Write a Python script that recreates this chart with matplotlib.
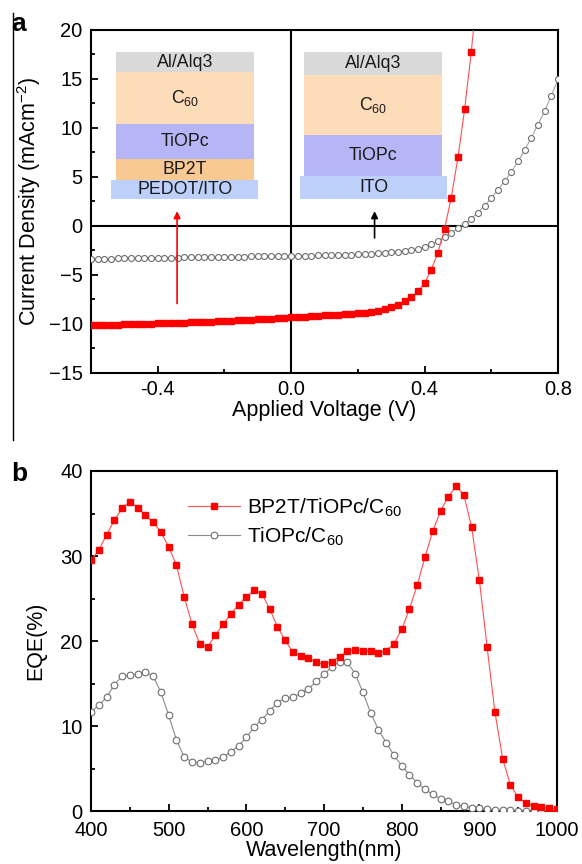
import matplotlib
matplotlib.use("Agg")
import matplotlib.pyplot as plt
from matplotlib.lines import Line2D
from matplotlib.patches import Rectangle
from matplotlib.ticker import MultipleLocator

plt.rcParams['font.family'] = ['Liberation Sans', 'DejaVu Sans']
plt.rcParams['mathtext.fontset'] = 'custom'
plt.rcParams['mathtext.rm'] = 'Liberation Sans'

# ---- panel a: J-V data ----
v_red = [-0.60, -0.58, -0.56, -0.54, -0.52, -0.50, -0.48, -0.46, -0.44, -0.42,
         -0.40, -0.38, -0.36, -0.34, -0.32, -0.30, -0.28, -0.26, -0.24, -0.22,
         -0.20, -0.18, -0.16, -0.14, -0.12, -0.10, -0.08, -0.06, -0.04, -0.02,
         0.00, 0.02, 0.04, 0.06, 0.08, 0.10, 0.12, 0.14, 0.16, 0.18,
         0.20, 0.22, 0.24, 0.26, 0.28, 0.30, 0.32, 0.34, 0.36, 0.38,
         0.40, 0.42, 0.44, 0.46, 0.48, 0.50, 0.52, 0.54, 0.56]
j_red = [-10.15, -10.12, -10.10, -10.08, -10.06, -10.04, -10.02, -10.00, -9.98, -9.96,
         -9.94, -9.92, -9.90, -9.88, -9.86, -9.84, -9.81, -9.78, -9.75, -9.72,
         -9.69, -9.66, -9.63, -9.60, -9.57, -9.53, -9.49, -9.45, -9.41, -9.37,
         -9.33, -9.29, -9.25, -9.21, -9.17, -9.13, -9.09, -9.05, -9.01, -8.96,
         -8.91, -8.85, -8.77, -8.67, -8.52, -8.30, -8.02, -7.70, -7.26, -6.68,
         -5.83, -4.46, -2.73, -0.27, 2.90, 7.00, 11.90, 17.80, 24.50]

v_gray = [-0.60, -0.58, -0.56, -0.54, -0.52, -0.50, -0.48, -0.46, -0.44, -0.42,
          -0.40, -0.38, -0.36, -0.34, -0.32, -0.30, -0.28, -0.26, -0.24, -0.22,
          -0.20, -0.18, -0.16, -0.14, -0.12, -0.10, -0.08, -0.06, -0.04, -0.02,
          0.00, 0.02, 0.04, 0.06, 0.08, 0.10, 0.12, 0.14, 0.16, 0.18,
          0.20, 0.22, 0.24, 0.26, 0.28, 0.30, 0.32, 0.34, 0.36, 0.38,
          0.40, 0.42, 0.44, 0.46, 0.48, 0.50, 0.52, 0.54, 0.56, 0.58,
          0.60, 0.62, 0.64, 0.66, 0.68, 0.70, 0.72, 0.74, 0.76, 0.78, 0.80]
j_gray = [-3.35, -3.34, -3.33, -3.32, -3.31, -3.30, -3.29, -3.28, -3.27, -3.26,
          -3.25, -3.24, -3.23, -3.22, -3.21, -3.20, -3.19, -3.18, -3.17, -3.16,
          -3.15, -3.14, -3.13, -3.12, -3.11, -3.10, -3.09, -3.08, -3.07, -3.06,
          -3.05, -3.04, -3.03, -3.02, -3.01, -3.00, -2.98, -2.96, -2.94, -2.92,
          -2.90, -2.87, -2.84, -2.80, -2.75, -2.70, -2.63, -2.55, -2.45, -2.30,
          -2.12, -1.88, -1.55, -1.15, -0.70, -0.25, 0.25, 0.75, 1.36, 2.05,
          2.85, 3.70, 4.57, 5.50, 6.60, 7.75, 9.00, 10.35, 11.75, 13.30, 15.00]

# ---- panel b: EQE data ----
wl = [400, 410, 420, 430, 440, 450, 460, 470, 480, 490,
      500, 510, 520, 530, 540, 550, 560, 570, 580, 590,
      600, 610, 620, 630, 640, 650, 660, 670, 680, 690,
      700, 710, 720, 730, 740, 750, 760, 770, 780, 790,
      800, 810, 820, 830, 840, 850, 860, 870, 880, 890,
      900, 910, 920, 930, 940, 950, 960, 970, 980, 990, 1000]
eqe_bp2t = [29.5, 30.7, 32.5, 34.2, 35.6, 36.4, 35.7, 34.8, 34.0, 32.8,
            31.1, 28.9, 25.2, 22.0, 19.7, 19.3, 20.7, 22.0, 23.2, 24.3,
            25.2, 26.0, 25.6, 23.8, 21.7, 20.1, 18.7, 18.3, 18.0, 17.5,
            17.3, 17.6, 18.2, 18.8, 19.0, 18.9, 18.8, 18.6, 18.9, 19.7,
            21.4, 23.8, 26.6, 29.9, 32.9, 35.3, 37.0, 38.2, 37.2, 33.4,
            27.2, 19.3, 11.7, 6.2, 3.1, 1.65, 0.95, 0.67, 0.47, 0.40, 0.30]
eqe_tiopc = [11.7, 12.5, 13.4, 14.9, 15.9, 16.0, 16.1, 16.4, 15.9, 14.0,
             11.3, 8.4, 6.4, 5.8, 5.7, 5.9, 6.0, 6.4, 7.0, 7.7,
             8.7, 9.9, 10.8, 11.8, 12.8, 13.3, 13.4, 13.9, 14.4, 15.3,
             16.1, 17.0, 17.6, 17.5, 16.2, 14.0, 11.6, 9.6, 8.1, 6.6,
             5.4, 4.3, 3.4, 2.6, 2.0, 1.5, 1.2, 0.8, 0.6, 0.45,
             0.35, 0.27, 0.20, 0.15, 0.12, 0.10, 0.08, 0.07, 0.06, 0.05, 0.05]

# device stacks, bottom layer first
left_stack = ['PEDOT/ITO', 'BP2T', 'TiOPc', 'C$_{60}$', 'Al/Alq3']
right_stack = ['ITO', 'TiOPc', 'C$_{60}$', 'Al/Alq3']

RED = '#ff0000'
GRAY = '#6e6e6e'
layer_colors = {'PEDOT/ITO': '#bcd0fa', 'ITO': '#bcd0fa', 'BP2T': '#f9c994',
                'TiOPc': '#b6b6f7', 'C$_{60}$': '#fddcb9', 'Al/Alq3': '#d9d9d9'}

TICK_FS = 14.5
LABEL_FS = 15.5

fig = plt.figure(figsize=(5.82, 8.64), dpi=100)
ax1 = fig.add_axes([0.1564, 0.5683, 0.8024, 0.3970])
ax2 = fig.add_axes([0.1564, 0.0608, 0.8007, 0.3941])

# ---------- panel a ----------
ax1.axhline(0, color='black', lw=1.5, zorder=1)
ax1.axvline(0, color='black', lw=1.5, zorder=1)
ax1.plot(v_gray, j_gray, '-', color='#9a9a9a', lw=0.7, marker='o', ms=4.3,
         mfc='white', mec=GRAY, mew=0.8, zorder=3)
ax1.plot(v_red, j_red, '-', color='#ff5050', lw=0.8, marker='s', ms=3.7,
         mfc=RED, mec=RED, zorder=4)
ax1.set_xlim(-0.6, 0.8)
ax1.set_ylim(-15, 20)
ax1.xaxis.set_minor_locator(MultipleLocator(0.2))
ax1.yaxis.set_major_locator(MultipleLocator(5))
ax1.yaxis.set_minor_locator(MultipleLocator(2.5))
ax1.set_xticks([-0.4, 0.0, 0.4, 0.8])
ax1.set_xticklabels(['-0.4', '0.0', '0.4', '0.8'])
ax1.set_ylabel('Current Density (mAcm$^{-2}$)', fontsize=LABEL_FS, labelpad=4)
ax1.set_xlabel('Applied Voltage (V)', fontsize=LABEL_FS, labelpad=1)


def draw_stack(ax, layers, x0, x1, base_x0, base_x1, edges):
    for i, name in enumerate(layers):
        y0, y1 = edges[i], edges[i + 1]
        xa, xb = (base_x0, base_x1) if i == 0 else (x0, x1)
        ax.add_patch(Rectangle((xa, y0), xb - xa, y1 - y0, transform=ax.transAxes,
                               facecolor=layer_colors[name], edgecolor='none', zorder=2))
        ax.text((xa + xb) / 2, (y0 + y1) / 2, name, transform=ax.transAxes,
                ha='center', va='center', fontsize=12.8, color='#1a1a1a', zorder=5)


draw_stack(ax1, left_stack, 0.054, 0.349, 0.043, 0.358,
           [0.506, 0.564, 0.623, 0.725, 0.877, 0.936])
draw_stack(ax1, right_stack, 0.457, 0.752, 0.448, 0.762,
           [0.506, 0.573, 0.693, 0.868, 0.936])

ax1.annotate('', xy=(-0.342, 1.8), xytext=(-0.342, -8.2),
             arrowprops=dict(arrowstyle='-|>', color=RED, lw=1.2,
                             mutation_scale=10), zorder=5)
ax1.annotate('', xy=(0.25, 1.8), xytext=(0.25, -1.5),
             arrowprops=dict(arrowstyle='-|>', color='black', lw=1.2,
                             mutation_scale=10), zorder=5)

# ---------- panel b ----------
ax2.plot(wl, eqe_bp2t, '-', color='#ff5050', lw=0.8, marker='s', ms=4.2,
         mfc=RED, mec=RED, label='BP2T/TiOPc/C$_{60}$', zorder=4)
ax2.plot(wl, eqe_tiopc, '-', color='#8a8a8a', lw=0.8, marker='o', ms=4.8,
         mfc='white', mec=GRAY, mew=0.8, label='TiOPc/C$_{60}$', zorder=3)
ax2.set_xlim(400, 1000)
ax2.set_ylim(0, 40)
ax2.xaxis.set_major_locator(MultipleLocator(100))
ax2.xaxis.set_minor_locator(MultipleLocator(50))
ax2.yaxis.set_major_locator(MultipleLocator(10))
ax2.yaxis.set_minor_locator(MultipleLocator(5))
ax2.set_ylabel('EQE(%)', fontsize=LABEL_FS, labelpad=10)
ax2.set_xlabel('Wavelength(nm)', fontsize=LABEL_FS, labelpad=0)
ax2.legend(loc='upper left', bbox_to_anchor=(0.19, 0.95), frameon=False,
           fontsize=15, handlelength=2.5, handletextpad=0.35, labelspacing=0.3,
           borderaxespad=0)

for ax in (ax1, ax2):
    for s in ax.spines.values():
        s.set_linewidth(1.5)
    ax.tick_params(which='both', direction='in', top=False, right=False,
                   labelsize=TICK_FS, width=1.3)
    ax.tick_params(which='major', length=5)
    ax.tick_params(which='minor', length=3)
    ax.tick_params(axis='y', pad=6)
ax1.tick_params(axis='x', pad=5)
ax2.tick_params(axis='x', pad=7)

# panel labels and the left border line
fig.text(0.019, 0.972, 'a', fontsize=19, fontweight='bold', va='center')
fig.text(0.019, 0.4514, 'b', fontsize=19, fontweight='bold', va='center')
fig.add_artist(Line2D([0.0215, 0.0215], [0.491, 0.985], transform=fig.transFigure,
                      color='black', lw=1.0))

fig.savefig('out.png', dpi=100)
